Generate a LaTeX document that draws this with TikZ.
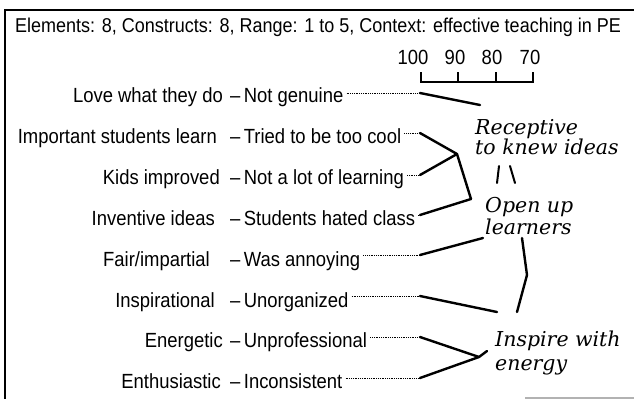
\documentclass[tikz,border=0pt]{standalone}
\usepackage{fontspec}
\setmainfont{Liberation Sans}[FakeStretch=0.9]
\newfontfamily\handfont{DejaVu Serif}
\begin{document}
\begin{tikzpicture}[
x=1pt, y=-1pt,
txt/.style={font=\fontsize{20.5}{22}\selectfont, inner sep=0pt},
elem/.style={txt, anchor=base east},
cons/.style={txt, anchor=base west},
leader/.style={line width=0.9pt, dash pattern=on 0.7pt off 1.1pt, shorten <=3pt},
ink/.style={line width=2.4pt, line cap=round, line join=round},
note/.style={font=\handfont\itshape\fontsize{20.5}{20}\selectfont, align=left, anchor=base west, inner sep=0pt}
]
\useasboundingbox (0,0) rectangle (634,399);
\draw[line width=2pt] (634,10) -- (5,10) -- (5,399);
\draw[gray!60, line width=1.5pt] (525,398) -- (634,398);

\node[cons, font=\fontsize{20}{22}\selectfont] (title) at (15,32) {Elements: 8, Constructs: 8, Range: 1 to 5, Context: effective teaching in PE};

\node[txt, anchor=base] (n100) at (413,64) {100};
\node[txt, anchor=base] (n90) at (455,64) {90};
\node[txt, anchor=base] (n80) at (492,64) {80};
\node[txt, anchor=base] (n70) at (530,64) {70};
\draw[line width=1.6pt] (421,72) |- (533,82) -- (533,72);
\draw[line width=1.6pt] (458,72) -- (458,82);
\draw[line width=1.6pt] (496,72) -- (496,82);

\node[elem] (e1) at (223,102) {Love what they do};
\node[elem] (e2) at (217,143) {Important students learn};
\node[elem] (e3) at (220,184) {Kids improved};
\node[elem] (e4) at (215,225) {Inventive ideas};
\node[elem] (e5) at (210,266) {Fair/impartial};
\node[elem] (e6) at (215,307) {Inspirational};
\node[elem] (e7) at (223,347) {Energetic};
\node[elem] (e8) at (221,388) {Enthusiastic};

\node[cons] (c1) at (230,102) {--\,Not genuine};
\node[cons] (c2) at (230,143) {--\,Tried to be too cool};
\node[cons] (c3) at (230,184) {--\,Not a lot of learning};
\node[cons] (c4) at (230,225) {--\,Students hated class};
\node[cons] (c5) at (230,266) {--\,Was annoying};
\node[cons] (c6) at (230,307) {--\,Unorganized};
\node[cons] (c7) at (230,347) {--\,Unprofessional};
\node[cons] (c8) at (230,388) {--\,Inconsistent};

\coordinate (d1) at (420,93);
\coordinate (d2) at (420,133);
\coordinate (d3) at (420,175);
\coordinate (d4) at (420,215);
\coordinate (d5) at (420,255);
\coordinate (d6) at (420,296);
\coordinate (d7) at (420,337);
\coordinate (d8) at (420,378);
\draw[leader] (c1.east |- d1) -- (d1);
\draw[leader] (c2.east |- d2) -- (d2);
\draw[leader] (c3.east |- d3) -- (d3);
\draw[leader] (c4.east |- d4) -- (d4);
\draw[leader] (c5.east |- d5) -- (d5);
\draw[leader] (c6.east |- d6) -- (d6);
\draw[leader] (c7.east |- d7) -- (d7);
\draw[leader] (c8.east |- d8) -- (d8);

\node[note] (receptive) at (475,154) {Receptive\\to knew ideas};
\node[note] (open) at (485,234) {Open up\\[2pt]learners};
\node[note] (inspire) at (495,370) {Inspire with\\[4pt]energy};

\coordinate (t1) at (480,105);
\coordinate (j1) at (457,154);
\coordinate (j2) at (471,199);
\coordinate (t5) at (483,238);
\coordinate (t6) at (497,312);
\coordinate (j3) at (479,357);
\coordinate (tail) at (487,351);
\coordinate (b1) at (522,238);
\coordinate (b2) at (527,275);
\coordinate (b3) at (517,312);
\draw[ink] (d1) -- (t1);
\draw[ink] (d2) -- (j1);
\draw[ink] (d3) -- (j1);
\draw[ink] (j1) -- (j2);
\draw[ink] (d4) -- (j2);
\draw[ink] (d5) -- (t5);
\draw[ink] (d6) -- (t6);
\draw[ink] (b1) -- (b2) -- (b3);
\draw[ink] (d7) -- (j3);
\draw[ink] (d8) -- (j3) -- (tail);
\draw[ink, line width=2pt] (497,183) -- (499,166);
\draw[ink, line width=2pt] (510,166) -- (515,183);
\end{tikzpicture}
\end{document}
